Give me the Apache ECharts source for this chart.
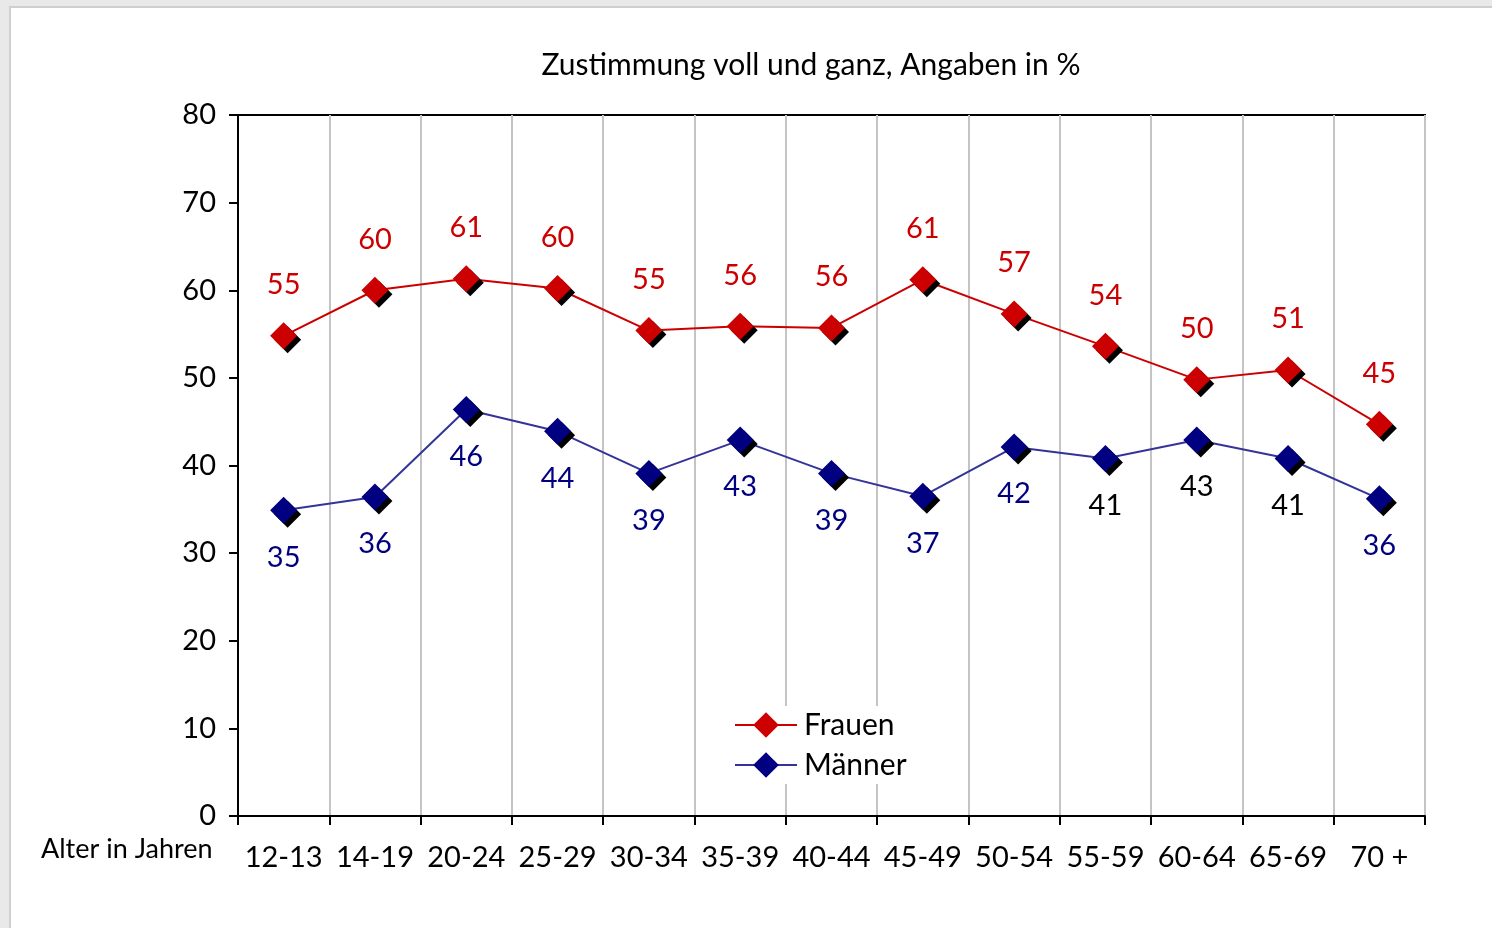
<!DOCTYPE html>
<html>
<head>
<meta charset="utf-8">
<script src="https://cdn.jsdelivr.net/npm/echarts@6/dist/echarts.min.js"></script>
<style>
  html, body { margin: 0; padding: 0; background: #e9e9e9; }
  #frame { position: absolute; left: 9px; top: 6px; width: 1483px; height: 922px;
           background: #fff; border-left: 2px solid #cfcfcf; border-top: 2px solid #cfcfcf; box-sizing: border-box; }
  #chart { position: absolute; left: 0; top: 0; width: 1492px; height: 928px; }
</style>
</head>
<body>
<div id="frame"></div>
<div id="chart"></div>
<script>
// Altersgruppen
var ageGroups = ['12-13', '14-19', '20-24', '25-29', '30-34', '35-39', '40-44',
                 '45-49', '50-54', '55-59', '60-64', '65-69', '70 +'];
// Zustimmung in %
var frauen = [54.8, 60.0, 61.3, 60.2, 55.4, 55.9, 55.7, 61.2, 57.3, 53.6, 49.8, 50.9, 44.7];
var maenner = [34.9, 36.4, 46.4, 43.9, 39.1, 42.9, 39.1, 36.5, 42.1, 40.8, 42.9, 40.8, 36.2];
var yTicks = [0, 10, 20, 30, 40, 50, 60, 70, 80];

var font = 'Lato';
var myChart = echarts.init(document.getElementById('chart'));

// bei 55-59, 60-64, 65-69 sind die Werte der Männer schwarz beschriftet
var blackIdx = [9, 10, 11];
var maennerData = maenner.map(function (v, i) {
    return blackIdx.indexOf(i) >= 0 ? { value: v, label: { color: '#000' } } : v;
});

var option = {
    animation: false,
    backgroundColor: 'transparent',
    textStyle: { fontFamily: font },
    title: {
        text: 'Zustimmung voll und ganz, Angaben in %',
        left: 806,
        top: 45,
        textAlign: 'center',
        textStyle: { fontFamily: font, fontSize: 30, fontWeight: 'normal', color: '#000' }
    },
    grid: {
        left: 238, right: 67, top: 115, bottom: 112,
        show: true, borderColor: '#000', borderWidth: 2, backgroundColor: 'transparent'
    },
    legend: {
        orient: 'vertical',
        left: 730, top: 706,
        backgroundColor: '#fff',
        padding: [4, 6, 4, 4],
        itemWidth: 62, itemHeight: 32, itemGap: 10,
        textStyle: { fontFamily: font, fontSize: 30, color: '#000', padding: [0, 0, 0, 2] },
        itemStyle: { shadowBlur: 0, shadowOffsetX: 0, shadowOffsetY: 0, shadowColor: 'transparent' },
        data: ['Frauen', 'Männer']
    },
    graphic: [{
        type: 'text', left: 41, top: 836,
        style: { text: 'Alter in Jahren', font: '27px ' + font, fill: '#000' }
    }],
    xAxis: {
        type: 'category',
        data: ageGroups,
        axisLine: { lineStyle: { color: '#000', width: 2 } },
        axisTick: { show: true, length: 9, lineStyle: { color: '#000', width: 2 } },
        axisLabel: { color: '#000', fontSize: 29, fontFamily: font, margin: 27, interval: 0 },
        splitLine: { show: true, interval: 0, lineStyle: { color: '#c4c4c4', width: 2 } }
    },
    yAxis: {
        type: 'value',
        min: 0, max: 80, interval: 10,
        axisLine: { show: true, lineStyle: { color: '#000', width: 2 } },
        axisTick: { show: true, length: 9, lineStyle: { color: '#000', width: 2 } },
        axisLabel: { color: '#000', fontSize: 29, fontFamily: font, margin: 22,
            formatter: function (v) { return yTicks.indexOf(v) >= 0 ? v : ''; } },
        splitLine: { show: false }
    },
    series: [{
        name: 'Frauen',
        type: 'line',
        data: frauen,
        symbol: 'diamond',
        symbolSize: 27,
        lineStyle: { color: '#cc0000', width: 2 },
        itemStyle: { color: '#cc0000', shadowColor: '#000', shadowBlur: 0, shadowOffsetX: 4, shadowOffsetY: 4 },
        label: {
            show: true, position: 'top', distance: 23,
            color: '#cc0000', fontSize: 29, fontFamily: font,
            formatter: function (p) { return Math.round(p.value); }
        }
    }, {
        name: 'Männer',
        type: 'line',
        data: maennerData,
        symbol: 'diamond',
        symbolSize: 27,
        lineStyle: { color: '#333399', width: 2 },
        itemStyle: { color: '#000080', shadowColor: '#000', shadowBlur: 0, shadowOffsetX: 4, shadowOffsetY: 4 },
        label: {
            show: true, position: 'bottom', distance: 19,
            color: '#000080', fontSize: 29, fontFamily: font,
            formatter: function (p) { return Math.round(p.value); }
        }
    }]
};

myChart.setOption(option);
</script>
</body>
</html>
